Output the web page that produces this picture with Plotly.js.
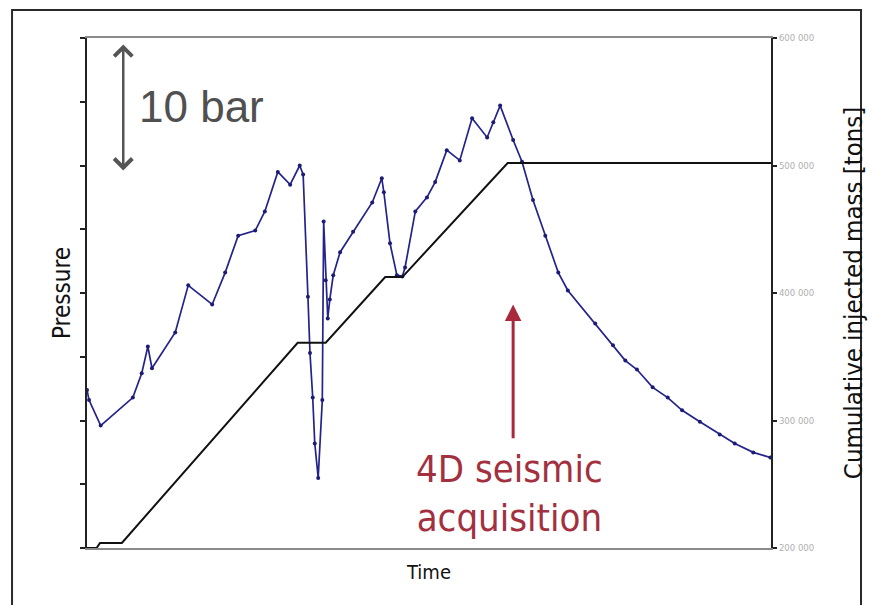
<!DOCTYPE html>
<html>
<head>
<meta charset="utf-8">
<script src="https://cdn.plot.ly/plotly-3.0.1.min.js"></script>
<style>
  html, body { margin: 0; padding: 0; background: #ffffff; }
  #chart { width: 872px; height: 605px; }
</style>
</head>
<body>
<div id="chart"></div>
<script>
// Bottom-hole pressure during injection and fall-off (bar)
const pressureTime = [0, 0.3, 2.0, 6.7, 8.0, 8.9, 9.5, 12.9, 14.8, 18.3, 20.2, 22.1, 24.6, 26.0, 27.9,
  29.7, 31.1, 31.6, 32.3, 32.6, 33.0, 33.3, 33.8, 34.4, 34.6, 34.9, 35.2, 35.5, 36.0, 37.0, 38.9,
  41.7, 43.1, 43.4, 44.3, 45.3, 46.1, 46.5, 48.0, 49.7, 50.9, 52.6, 54.5, 56.3, 58.5, 59.4, 60.4,
  62.3, 63.6, 65.2, 67.0, 68.9, 70.3, 74.3, 76.9, 78.7, 80.4, 82.7, 84.9, 87.0, 89.6, 92.5, 94.7,
  97.4, 99.9];
const pressureBar = [92.4, 91.6, 89.6, 91.8, 93.7, 95.8, 94.1, 96.9, 100.6, 99.1, 101.6, 104.5, 104.9, 106.4, 109.5,
  108.5, 110.0, 109.3, 99.7, 95.3, 91.8, 88.2, 85.5, 91.6, 105.6, 101.0, 98.0, 99.5, 101.4, 103.2, 104.8,
  107.1, 109.0, 107.9, 103.9, 101.4, 101.3, 102.0, 106.4, 107.5, 108.7, 111.2, 110.4, 113.7, 112.2, 113.4, 114.7,
  112.0, 110.3, 107.3, 104.5, 101.6, 100.2, 97.6, 95.9, 94.7, 94.0, 92.6, 91.8, 90.8, 89.9, 88.9, 88.2,
  87.5, 87.1];

// Cumulative injected mass (tons)
const massTime = [0, 1.4, 1.9, 5.1, 30.8, 34.9, 43.6, 46.1, 61.5, 100];
const massTons = [200000, 200000, 204000, 204000, 361000, 361000, 412500, 412500, 502000, 502000];

// Scale bar and seismic survey marker
const scaleBarTime = 5.3;
const scaleBarTop = 119.5;
const scaleBarBottom = 109.5;
const surveyTime = 62.3;
const surveyArrowTip = 99.1;
const surveyArrowTail = 88.5;

const massTicks = [200000, 300000, 400000, 500000, 600000];
const massRange = [200000, 600000];

const textFont = 'DejaVu Sans Condensed, DejaVu Sans, sans-serif';

const traces = [
  {
    x: massTime, y: massTons, yaxis: 'y2',
    type: 'scatter', mode: 'lines',
    line: { color: '#111111', width: 2 },
    hoverinfo: 'skip'
  },
  {
    x: pressureTime, y: pressureBar,
    type: 'scatter', mode: 'lines+markers',
    line: { color: '#23238a', width: 1.7 },
    marker: { color: '#1c1c78', size: 4 },
    hoverinfo: 'skip'
  }
];

const layout = {
  width: 872, height: 605,
  margin: { l: 87, r: 101, t: 38, b: 57 },
  paper_bgcolor: '#ffffff', plot_bgcolor: '#ffffff',
  showlegend: false,
  separators: '. ',
  xaxis: {
    range: [0, 100],
    showgrid: false, zeroline: false,
    showticklabels: false, ticks: '',
    showline: true, linecolor: '#8a8a8a', linewidth: 2, mirror: true,
    title: { text: 'Time', font: { family: textFont, size: 20, color: '#111' }, standoff: 16 }
  },
  yaxis: {
    range: [80, 120], dtick: 5, tick0: 80,
    showgrid: false, zeroline: false,
    showticklabels: false, ticks: 'outside', ticklen: 5, tickwidth: 2, tickcolor: '#222',
    showline: true, linecolor: '#222', linewidth: 2,
    title: { text: 'Pressure', font: { family: textFont, size: 24, color: '#111' }, standoff: 3 }
  },
  yaxis2: {
    overlaying: 'y', side: 'right',
    range: massRange, tickvals: massTicks, tickformat: ',d',
    showgrid: false, zeroline: false,
    ticks: 'outside', ticklen: 4, tickwidth: 2, tickcolor: '#222',
    tickfont: { family: textFont, size: 9.5, color: '#b0b0b0' },
    showline: true, linecolor: '#222', linewidth: 2,
    title: { text: 'Cumulative injected mass [tons]', font: { family: textFont, size: 25.5, color: '#111' }, standoff: 31 }
  },
  // inner half of the crossing ticks on the mass axis
  yaxis3: {
    overlaying: 'y', side: 'right',
    range: massRange, tickvals: massTicks,
    showgrid: false, zeroline: false, showline: false,
    showticklabels: false,
    ticks: 'inside', ticklen: 4, tickwidth: 2, tickcolor: '#222'
  },
  shapes: [
    {
      type: 'rect', xref: 'paper', yref: 'paper',
      x0: -0.1096, x1: 1.1316, y0: -0.14, y1: 1.0549,
      line: { color: '#2a2a2a', width: 2 }
    }
  ],
  annotations: [
    // 10 bar scale bar
    {
      x: scaleBarTime, y: scaleBarTop, ax: scaleBarTime, ay: scaleBarBottom,
      xref: 'x', yref: 'y', axref: 'x', ayref: 'y',
      text: '', showarrow: true, arrowside: 'end+start',
      arrowhead: 4, startarrowhead: 4, arrowsize: 1.4, startarrowsize: 1.4,
      arrowwidth: 2.5, arrowcolor: '#555555', standoff: 0, startstandoff: 0
    },
    {
      x: 0.0731, y: 0.865, xref: 'paper', yref: 'paper',
      xanchor: 'left', yanchor: 'middle', showarrow: false,
      text: '10 bar',
      font: { family: 'Liberation Sans, Arial, sans-serif', size: 44, color: '#505050' }
    },
    // 4D seismic survey marker
    {
      x: surveyTime, y: surveyArrowTip, ax: surveyTime, ay: surveyArrowTail,
      xref: 'x', yref: 'y', axref: 'x', ayref: 'y',
      text: '', showarrow: true,
      arrowhead: 2, arrowsize: 1.1, arrowwidth: 3, arrowcolor: '#a8283c', standoff: 0
    },
    {
      x: 0.618, y: 0.106, xref: 'paper', yref: 'paper',
      xanchor: 'center', yanchor: 'middle', showarrow: false,
      text: '4D seismic<br>acquisition',
      font: { family: textFont, size: 38, color: '#a3303f' }
    }
  ]
};

Plotly.newPlot('chart', traces, layout, { displayModeBar: false, staticPlot: true });
</script>
</body>
</html>
